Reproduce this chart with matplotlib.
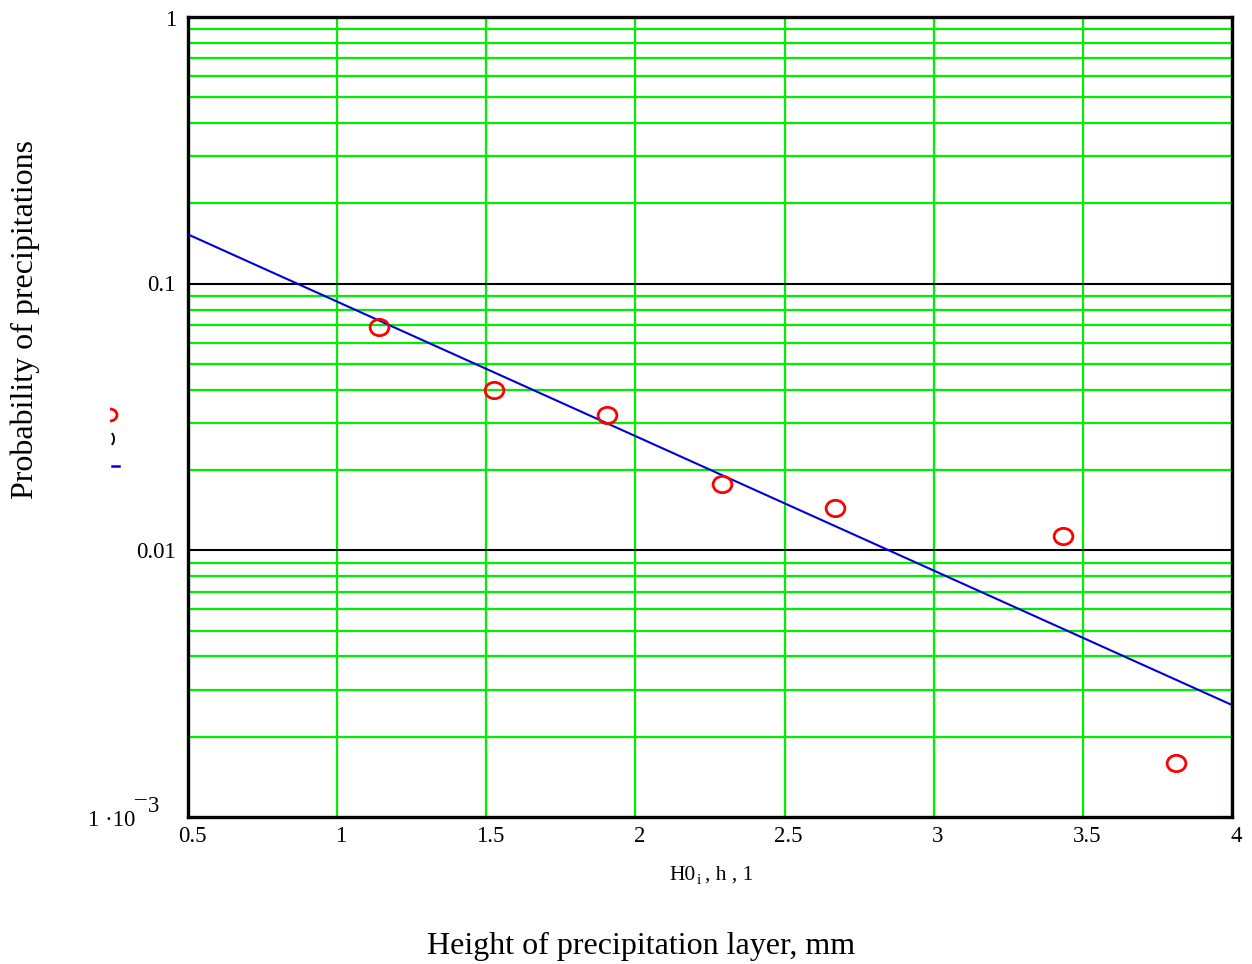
import matplotlib
matplotlib.use("Agg")
import matplotlib.pyplot as plt
from matplotlib.patches import Arc
from matplotlib.lines import Line2D
from matplotlib.path import Path
import matplotlib.transforms as mtransforms

# Data
obs_x = [1.140, 1.526, 1.905, 2.290, 2.669, 3.433, 3.812]
obs_p = [0.0688, 0.0399, 0.0322, 0.0177, 0.0144, 0.0113, 0.0016]
fit_x = [0.5, 4.0]
fit_p = [0.153, 0.00263]
x_ticks = [0.5, 1, 1.5, 2, 2.5, 3, 3.5, 4]
x_tick_labels = ["0.5", "1", "1.5", "2", "2.5", "3", "3.5", "4"]
y_tick_vals = [1, 0.1, 0.01]
y_tick_labels = ["1", "0.1", "0.01"]

plt.rcParams['font.family'] = ['Liberation Serif', 'DejaVu Serif']

W, H = 1252, 964
fig = plt.figure(figsize=(W/100, H/100), dpi=100)
L, R, T, B = 188, 1232, 17, 817
ax = fig.add_axes([L/W, 1-B/H, (R-L)/W, (B-T)/H])
ax.set_xlim(0.5, 4)
ax.set_yscale('log')
ax.set_ylim(0.001, 1)

green = '#00ee00'
for d in [0.001, 0.01, 0.1]:
    for m in range(2, 10):
        ax.axhline(d*m, color=green, lw=1.6, zorder=1)
for xv in x_ticks[1:]:
    ax.axvline(xv, color=green, lw=1.6, zorder=1)
for yv in [0.01, 0.1]:
    ax.axhline(yv, color='black', lw=1.5, zorder=2)

ax.plot(fit_x, fit_p, color='#0000dd', lw=1.5, zorder=3)

circ = Path.unit_circle()
ell = circ.transformed(mtransforms.Affine2D().scale(1.0, 0.87))
ax.plot(obs_x, obs_p, linestyle='none', marker=ell, ms=13.5, mfc='none', mec='red',
        mew=2.0, zorder=4, clip_on=False)

for s in ax.spines.values():
    s.set_linewidth(2.4)
    s.set_color('black')
ax.set_xticks([])
ax.set_yticks([])
ax.minorticks_off()
ax.tick_params(which='both', length=0)

fs = 16.5
for xv, lab in zip(x_ticks, x_tick_labels):
    px = L + (xv-0.5)/3.5*(R-L) + 4
    fig.text(px/W, 1-836/H, lab, ha='center', va='center', fontsize=fs)
ypos = {1: 20, 0.1: 285, 0.01: 553}
for v, lab in zip(y_tick_vals, y_tick_labels):
    fig.text(176/W, 1-ypos[v]/H, lab, ha='right', va='center', fontsize=fs)
# 1·10^-3 label
fig.text(135/W, 1-820/H, "1 \u00b710", ha='right', va='center', fontsize=fs)
fig.text(134/W, 1-800/H, "\u2012", ha='left', va='center', fontsize=fs)
fig.text(148/W, 1-807/H, "3", ha='left', va='center', fontsize=fs)

fig.text(696/W, 1-875/H, "H0", ha='right', va='center', fontsize=15.5)
fig.text(697/W, 1-880/H, "i", ha='left', va='center', fontsize=11)
fig.text(705/W, 1-875/H, ", h , 1", ha='left', va='center', fontsize=15.5)

fig.text(641/W, 1-946/H, "Height of precipitation layer, mm", ha='center', va='center', fontsize=23)
fig.text(25/W, 1-320/H, "Probability of precipitations", ha='center', va='center',
         fontsize=23, rotation=90)

# clipped legend remnants
fig.patches.append(Arc((110/W, 1-415/H), 14/W, 12/H, theta1=-90, theta2=90,
                       transform=fig.transFigure, color='red', lw=2.0))
fig.patches.append(Arc((109/W, 1-439/H), 10/W, 14/H, theta1=-70, theta2=70,
                       transform=fig.transFigure, color='black', lw=1.4))
fig.add_artist(Line2D([112/W, 119/W], [1-466/H, 1-466/H], transform=fig.transFigure,
                      color='#0000dd', lw=1.8))

fig.savefig("out.png", dpi=100)
